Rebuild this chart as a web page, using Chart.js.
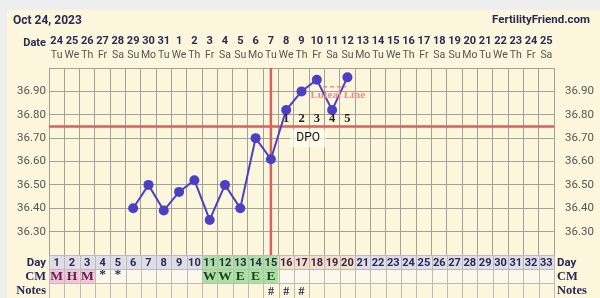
<!DOCTYPE html>
<html>
<head>
<meta charset="utf-8">
<script src="https://cdn.jsdelivr.net/npm/chart.js@4/dist/chart.umd.min.js"></script>
<style>
html,body{margin:0;padding:0;background:#eeeeee;}
#wrap{width:600px;height:298px;position:relative;}
</style>
</head>
<body>
<div id="wrap"><canvas id="c" width="600" height="298"></canvas></div>
<script>
// ---------- data ----------
const chartDate = 'Oct 24, 2023';
const siteName = 'FertilityFriend.com';
const cycleDays = ['1','2','3','4','5','6','7','8','9','10','11','12','13','14','15','16','17','18','19','20','21','22','23','24','25','26','27','28','29','30','31','32','33'];
const dateLabels = ['24','25','26','27','28','29','30','31','1','2','3','4','5','6','7','8','9','10','11','12','13','14','15','16','17','18','19','20','21','22','23','24','25'];
const weekdays = ['Tu','We','Th','Fr','Sa','Su','Mo','Tu','We','Th','Fr','Sa','Su','Mo','Tu','We','Th','Fr','Sa','Su','Mo','Tu','We','Th','Fr','Sa','Su','Mo','Tu','We','Th','Fr','Sa'];
const temps = [null,null,null,null,null,36.40,36.50,36.39,36.47,36.52,36.35,36.50,36.40,36.70,36.61,36.82,36.90,36.95,36.82,36.96,null,null,null,null,null,null,null,null,null,null,null,null,null];
const cmCodes = ['M','H','M','*','*','','','','','','W','W','E','E','E','','','','','','','','','','','','','','','','','',''];
const notes = ['','','','','','','','','','','','','','','#','#','#','','','','','','','','','','','','','','','',''];
const tempTicks = [36.30,36.40,36.50,36.60,36.70,36.80,36.90];
const coverline = 36.75;
const lutealLine = 36.92;
const ovulationDay = 15;
const fertileDays = [11,12,13,14,15];

// ---------- styles ----------
const NAVY = '#2b2a55';
const RED = '#d9605e';
const LINE = '#4b40c4';
const GRID = '#a3a197';
const CREAM = '#fbf6dc';
const lastRecorded = temps.reduce((a, v, i) => v != null ? i + 1 : a, 0);

function dayFill(d) {
  if (fertileDays.includes(d)) return '#a8e29e';
  if (d > ovulationDay && d <= lastRecorded) return '#f8dcc8';
  return '#dedde9';
}
function cmFill(code) {
  if (code === 'M' || code === 'H') return '#f5c4da';
  if (code === 'W' || code === 'E') return '#a8e29e';
  return null;
}

const ROWS = [255, 269, 283, 298];

const deco = {
  id: 'deco',
  beforeDraw(chart) {
    const ctx = chart.ctx;
    ctx.save();
    ctx.fillStyle = '#eeeeee';
    ctx.fillRect(0, 0, chart.width, chart.height);
    ctx.fillStyle = CREAM;
    ctx.fillRect(7, 10, chart.width - 7, chart.height - 10);
    ctx.restore();
  },
  beforeDatasetsDraw(chart) {
    const {ctx, chartArea: ca, scales: {x, y}} = chart;
    ctx.save();
    ctx.strokeStyle = RED;
    ctx.lineWidth = 2.5;
    const cy = y.getPixelForValue(coverline);
    ctx.beginPath(); ctx.moveTo(ca.left, cy); ctx.lineTo(ca.right, cy); ctx.stroke();
    const ox = x.getPixelForValue(ovulationDay - 1);
    ctx.beginPath(); ctx.moveTo(ox, ca.top); ctx.lineTo(ox, ca.bottom); ctx.stroke();
    ctx.restore();
  },
  afterDatasetsDraw(chart) {
    const {ctx, chartArea: ca, scales: {x, y}} = chart;
    ctx.save();
    const cy = y.getPixelForValue(coverline);
    // DPO numbers
    ctx.fillStyle = '#222';
    ctx.font = 'bold 12.5px "Liberation Serif"';
    ctx.textAlign = 'center'; ctx.textBaseline = 'middle';
    let n = 1;
    for (let d = ovulationDay + 1; d <= lastRecorded; d++, n++) {
      ctx.fillText(String(n), x.getPixelForValue(d - 1), cy - 8);
    }
    // DPO box
    const dx = (x.getPixelForValue(ovulationDay + 1) + x.getPixelForValue(ovulationDay + 2)) / 2 - 1;
    ctx.fillStyle = 'rgba(255,253,240,0.7)';
    ctx.fillRect(dx - 18, cy + 3, 36, 18);
    ctx.fillStyle = '#111';
    ctx.font = '12px Roboto';
    ctx.fillText('DPO', dx, cy + 12);
    // luteal line
    const ly = y.getPixelForValue(lutealLine);
    const lx0 = x.getPixelForValue(ovulationDay + 3) - 9;
    const lx1 = x.getPixelForValue(ovulationDay + 4) - 1;
    ctx.strokeStyle = '#f08a8a';
    ctx.lineWidth = 1.5;
    ctx.setLineDash([4, 3]);
    ctx.beginPath(); ctx.moveTo(lx0, ly); ctx.lineTo(lx1, ly); ctx.stroke();
    ctx.setLineDash([]);
    ctx.fillStyle = '#f08a8a';
    ctx.font = 'bold 11px "Liberation Serif"';
    ctx.fillText('Luteal Line', (lx0 + lx1) / 2 + 3, ly + 8);
    ctx.restore();
  },
  afterDraw(chart) {
    const {ctx, chartArea: ca, scales: {x}} = chart;
    const colW = (ca.right - ca.left) / cycleDays.length;
    ctx.save();
    // header
    ctx.fillStyle = NAVY;
    ctx.textBaseline = 'middle';
    ctx.textAlign = 'left';
    ctx.font = 'bold 12px Roboto';
    ctx.fillText(chartDate, 13, 21);
    ctx.textAlign = 'right';
    ctx.font = 'bold 11.5px Roboto';
    ctx.fillText(siteName, 590, 20);
    ctx.font = 'bold 11px Roboto';
    ctx.fillText('Date', 46, 43);
    ctx.textAlign = 'center';
    dateLabels.forEach((t, i) => ctx.fillText(t, x.getPixelForValue(i), 41));
    ctx.fillStyle = '#555';
    ctx.font = '10.5px Roboto';
    weekdays.forEach((t, i) => ctx.fillText(t, x.getPixelForValue(i), 55));
    // table
    for (let i = 0; i < cycleDays.length; i++) {
      const l = ca.left + i * colW;
      const d = i + 1;
      ctx.fillStyle = dayFill(d);
      ctx.fillRect(l, ROWS[0], colW, ROWS[1] - ROWS[0]);
      const cf = cmFill(cmCodes[i]);
      ctx.fillStyle = cf || '#fcf9ec';
      ctx.fillRect(l, ROWS[1], colW, ROWS[2] - ROWS[1]);
      ctx.fillStyle = CREAM;
      ctx.fillRect(l, ROWS[2], colW, ROWS[3] - ROWS[2]);
    }
    ctx.strokeStyle = '#bdbbb2';
    ctx.lineWidth = 1;
    for (let i = 0; i <= cycleDays.length; i++) {
      const l = Math.round(ca.left + i * colW) + 0.5;
      ctx.beginPath(); ctx.moveTo(l, ROWS[0]); ctx.lineTo(l, ROWS[3]); ctx.stroke();
    }
    ROWS.forEach(r => {
      ctx.beginPath(); ctx.moveTo(ca.left, r + 0.5); ctx.lineTo(ca.right, r + 0.5); ctx.stroke();
    });
    // table text
    ctx.textAlign = 'center';
    ctx.fillStyle = NAVY;
    ctx.font = 'bold 11px Roboto';
    cycleDays.forEach((t, i) => ctx.fillText(t, x.getPixelForValue(i), 263));
    ctx.font = 'bold 13.5px "Liberation Serif"';
    cmCodes.forEach((t, i) => {
      if (!t) return;
      ctx.fillStyle = (t === 'M' || t === 'H') ? '#5a2450' : (t === '*' ? NAVY : '#1f3a2a');
      ctx.fillText(t, x.getPixelForValue(i), t === '*' ? 275 : 277);
    });
    ctx.fillStyle = NAVY;
    ctx.font = 'bold 12px "Liberation Serif"';
    notes.forEach((t, i) => { if (t) ctx.fillText(t, x.getPixelForValue(i), 292); });
    // row labels
    ctx.textAlign = 'right';
    ctx.font = 'bold 11.5px Roboto';
    ctx.fillText('Day', 46, 263);
    ctx.font = 'bold 12.5px "Liberation Serif"';
    ctx.fillText('CM', 46, 277);
    ctx.fillText('Notes', 46, 291);
    ctx.textAlign = 'left';
    ctx.font = 'bold 11.5px Roboto';
    ctx.fillText('Day', 557, 263);
    ctx.font = 'bold 12.5px "Liberation Serif"';
    ctx.fillText('CM', 557, 277);
    ctx.fillText('Notes', 557, 291);
    ctx.restore();
  }
};

function tickCb(v) {
  const r = Math.round(v * 100);
  const hit = tempTicks.some(t => Math.round(t * 100) === r);
  return hit ? (r / 100).toFixed(2) : '';
}

new Chart(document.getElementById('c'), {
  type: 'line',
  data: {
    labels: cycleDays,
    datasets: [{
      data: temps,
      borderColor: LINE,
      backgroundColor: LINE,
      borderWidth: 2,
      pointRadius: 5,
      pointBackgroundColor: LINE,
      pointBorderWidth: 0,
      spanGaps: false,
      tension: 0
    }]
  },
  options: {
    responsive: false,
    animation: false,
    events: [],
    layout: {padding: {left: 0, right: 0, top: 68, bottom: 43}},
    plugins: {legend: {display: false}, tooltip: {enabled: false}},
    scales: {
      x: {
        type: 'category',
        offset: true,
        grid: {offset: true, color: GRID, drawTicks: false},
        border: {display: false},
        ticks: {display: false},
        afterFit(s) { s.height = 0; }
      },
      y: {
        position: 'left',
        min: 36.20, max: 37.00,
        grid: {color: GRID, drawTicks: false},
        border: {display: true, color: GRID},
        ticks: {stepSize: 0.05, padding: 3, color: '#555', font: {family: 'Roboto', size: 11.5}, callback: tickCb},
        afterFit(s) { s.width = 49; }
      },
      y2: {
        position: 'right',
        min: 36.20, max: 37.00,
        grid: {display: false},
        border: {display: true, color: GRID},
        ticks: {stepSize: 0.05, padding: 3, color: '#555', font: {family: 'Roboto', size: 11.5}, callback: tickCb},
        afterFit(s) { s.width = 46; }
      }
    }
  },
  plugins: [deco]
});
</script>
</body>
</html>
